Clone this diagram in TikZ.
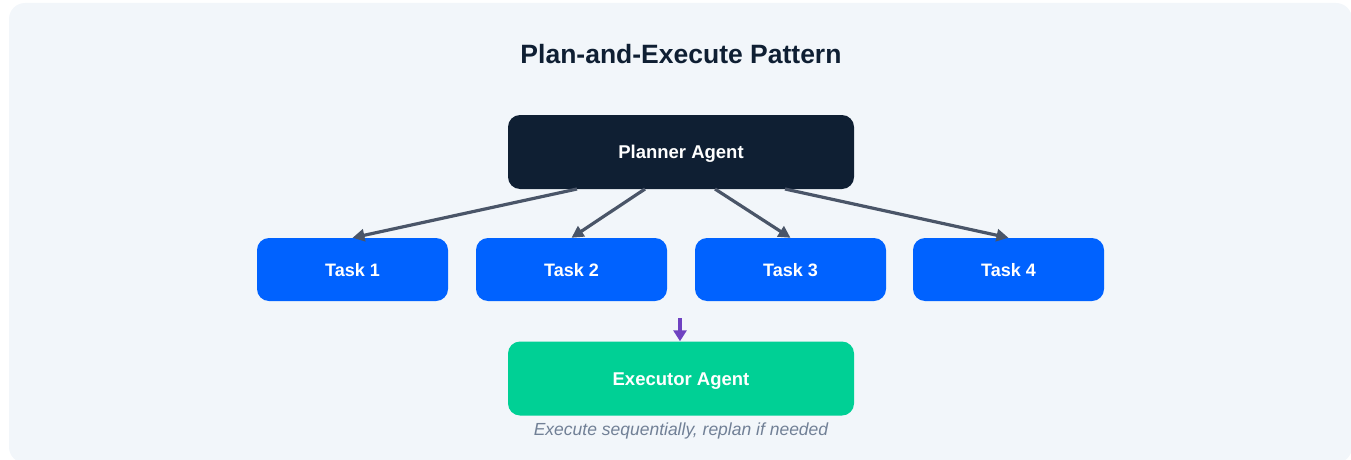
\documentclass[tikz,border=0pt]{standalone}
\usepackage{fontspec}
\setmainfont{Liberation Sans}
\usetikzlibrary{arrows.meta}
\definecolor{bgpanel}{HTML}{F2F6FA}
\definecolor{plannerfill}{HTML}{0F1F33}
\definecolor{taskfill}{HTML}{0062FF}
\definecolor{execfill}{HTML}{00D095}
\definecolor{edgecol}{HTML}{4A5568}
\definecolor{purplecol}{HTML}{6F42C1}
\definecolor{titlecol}{HTML}{0F1F33}
\definecolor{captioncol}{HTML}{718096}
\begin{document}
\begin{tikzpicture}[x=1pt,y=-1pt,
  agentbox/.style={draw=none, rounded corners=12pt, minimum width=346pt, minimum height=74pt, text=white, font=\fontsize{18.5}{22}\selectfont\bfseries, inner sep=0pt, text height=13pt, text depth=0pt},
  taskbox/.style={draw=none, fill=taskfill, rounded corners=12pt, minimum width=191pt, minimum height=63pt, text=white, font=\fontsize{18}{21}\selectfont\bfseries, inner sep=0pt, text height=13pt, text depth=0pt},
  edge/.style={draw=edgecol, line width=3.2pt, -{Triangle[length=12pt,width=12pt]}},
  pedge/.style={draw=purplecol, line width=3.5pt, -{Triangle[length=11pt,width=13pt]}}]
\useasboundingbox (0,0) rectangle (1351,460);
\fill[bgpanel, rounded corners=16pt] (9,3) rectangle (1352,463);
\node[font=\fontsize{26.5}{30}\selectfont\bfseries, text=titlecol] (title) at (681,54) {Plan-and-Execute Pattern};
\node[agentbox, fill=plannerfill] (planner) at (681,152) {Planner Agent};
\node[taskbox] (t1) at (352.5,269.5) {Task 1};
\node[taskbox] (t2) at (571.5,269.5) {Task 2};
\node[taskbox] (t3) at (790.5,269.5) {Task 3};
\node[taskbox] (t4) at (1008.5,269.5) {Task 4};
\node[agentbox, fill=execfill] (exec) at (681,378.5) {Executor Agent};
\node[font=\fontsize{17.5}{20}\selectfont\itshape, text=captioncol] (cap) at (681,431) {Execute sequentially, replan if needed};
\coordinate (p1) at (577,189);
\coordinate (p2) at (645,189);
\coordinate (p3) at (715,189);
\coordinate (p4) at (785,189);
\coordinate (e0) at (680,318);
\draw[edge] (p1) -- (t1.north);
\draw[edge] (p2) -- (t2.north);
\draw[edge] (p3) -- (t3.north);
\draw[edge] (p4) -- (t4.north);
\draw[pedge] (e0) -- (exec.north -| e0);
\end{tikzpicture}
\end{document}
